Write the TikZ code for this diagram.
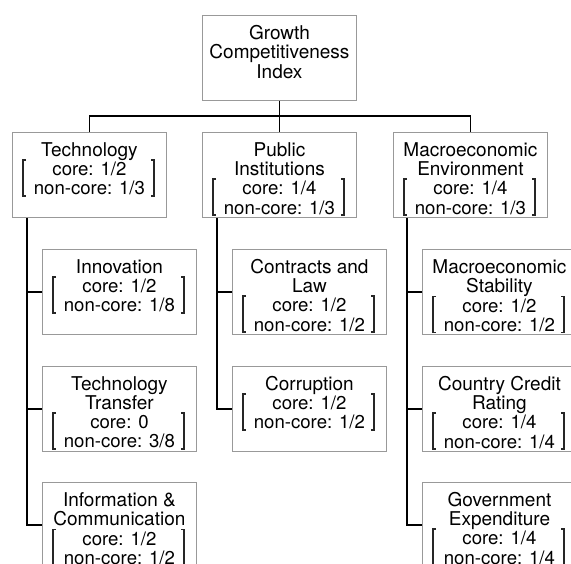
\documentclass[tikz,border=0pt]{standalone}
\usepackage{fontspec}
\setmainfont{TeX Gyre Heros}
\usetikzlibrary{calc}
\tikzset{
  gbox/.style={draw=black!40, line width=0.9pt, minimum width=154pt, minimum height=85pt,
    anchor=north west, inner sep=0pt},
  gtxt/.style={inner sep=0pt, font=\fontsize{19}{18.5}\selectfont},
  vtxt/.style={inner sep=0pt, font=\fontsize{18.6}{18.5}\selectfont},
  brk/.style={draw=black!85, line width=1.6pt},
  conn/.style={draw=black, line width=1.1pt}
}
\newcommand\gcbox[5]{%
  \node[gbox] (#1) at #2 {};
  \node[gtxt, anchor=base] (#1-t) at ($(#1.north)+(0,24)$)
    {\begin{tabular}[t]{@{}c@{}}#3\end{tabular}};
  \node[vtxt, anchor=north] (#1-v) at (#1-t.south)
    {\begin{tabular}[t]{@{}c@{}}core: #4\\non-core: #5\end{tabular}};
  \coordinate (#1-bl) at ($(#1-v.north -| #1.west)+(11,-2)$);
  \coordinate (#1-br) at ($(#1-v.south -| #1.east)+(-13,-4.5)$);
  \draw[brk] ($(#1-bl)+(3,0)$) -- (#1-bl) -- (#1-bl |- #1-br) -- ++(3,0);
  \draw[brk] ($(#1-br)+(-3,0)$) -- (#1-br) -- (#1-br |- #1-bl) -- ++(-3,0);
}
\begin{document}
\begin{tikzpicture}[x=1pt, y=-1pt]
\useasboundingbox (0,0) rectangle (571,563);
% top
\node[gbox] (top) at (202,15) {};
\node[gtxt, anchor=base] (top-t) at ($(top.north)+(0,24)$)
  {\begin{tabular}[t]{@{}c@{}}Growth\\Competitiveness\\Index\end{tabular}};
% level 1
\gcbox{tech}{(12,132)}{Technology}{1/2}{1/3}
\gcbox{pub}{(202,132)}{Public\\Institutions}{1/4}{1/3}
\gcbox{mac}{(393,132)}{Macroeconomic\\Environment}{1/4}{1/3}
% level 2
\gcbox{inno}{(42,249)}{Innovation}{1/2}{1/8}
\gcbox{tt}{(42,366)}{Technology\\Transfer}{0}{3/8}
\gcbox{ic}{(42,482)}{Information \&\\Communication}{1/2}{1/2}
\gcbox{cl}{(232,249)}{Contracts and\\Law}{1/2}{1/2}
\gcbox{corr}{(232,366)}{Corruption}{1/2}{1/2}
\gcbox{ms}{(422,249)}{Macroeconomic\\Stability}{1/2}{1/2}
\gcbox{ccr}{(422,366)}{Country Credit\\Rating}{1/4}{1/4}
\gcbox{ge}{(422,482)}{Government\\Expenditure}{1/4}{1/4}
% connectors top
\coordinate (bus) at (279,116);
\draw[conn] (top.south) -- (pub.north);
\draw[conn] (tech.north) |- (bus) -| (mac.north);
% connectors children
\coordinate (tech-r) at ($(tech.south west)+(15,0)$);
\coordinate (pub-r) at ($(pub.south west)+(15,0)$);
\coordinate (mac-r) at ($(mac.south west)+(14,0)$);
\draw[conn] (tech-r) |- (ic.west);
\draw[conn] (inno.west) -- (inno.west -| tech-r);
\draw[conn] (tt.west) -- (tt.west -| tech-r);
\draw[conn] (pub-r) |- (corr.west);
\draw[conn] (cl.west) -- (cl.west -| pub-r);
\draw[conn] (mac-r) |- (ge.west);
\draw[conn] (ms.west) -- (ms.west -| mac-r);
\draw[conn] (ccr.west) -- (ccr.west -| mac-r);
\end{tikzpicture}
\end{document}
